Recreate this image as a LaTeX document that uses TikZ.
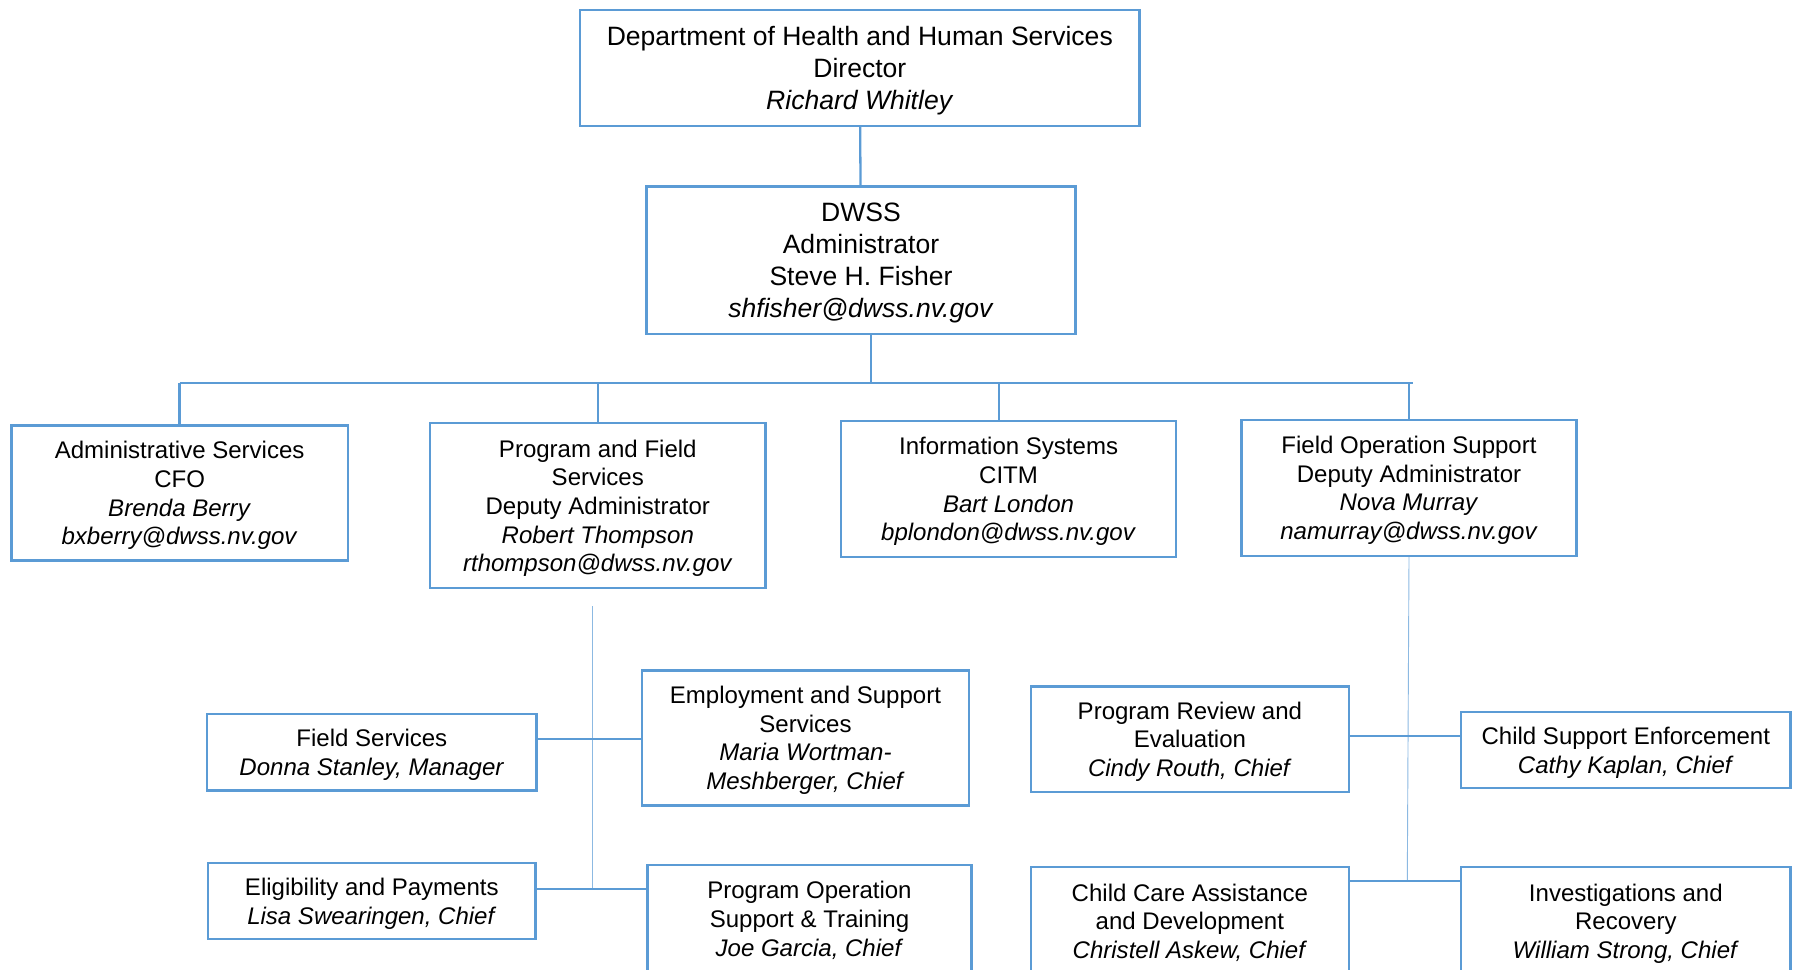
\documentclass[tikz,border=0pt]{standalone}
\usepackage{fontspec}
\setmainfont{Liberation Sans}
\usetikzlibrary{positioning}
\definecolor{orgblue}{RGB}{91,155,213}

\begin{document}
\begin{tikzpicture}[x=0.5pt,y=-0.5pt,
  boite/.style={draw=orgblue,line width=1pt,fill=white,inner sep=0pt,align=center,
    text depth=0pt,font=\fontsize{10.5}{12.5}\selectfont},
  grande/.style={boite,font=\fontsize{11.6}{14}\selectfont},
  lien/.style={draw=orgblue,line width=1pt},
  fin/.style={draw=orgblue!70,line width=0.4pt}]
\useasboundingbox (0,0) rectangle (1568,847);

% direction
\node[grande,minimum width=244.5pt,minimum height=50.5pt] (hhs) at (751.5,59.5)
  {Department of Health and Human Services\\Director\\\textit{Richard Whitley}};
\node[grande,minimum width=187.5pt,minimum height=64.5pt] (dwss) at (752.5,227.5)
  {DWSS\\Administrator\\Steve H. Fisher\\\textit{shfisher@dwss.nv.gov}};

% services
\node[boite,minimum width=147pt,minimum height=59pt] (adm) at (157,431)
  {Administrative Services\\CFO\\\textit{Brenda Berry}\\\textit{bxberry@dwss.nv.gov}};
\node[boite,minimum width=146.5pt,minimum height=72pt] (pfs) at (522.5,442)
  {Program and Field\\Services\\Deputy Administrator\\\textit{Robert Thompson}\\\textit{rthompson@dwss.nv.gov}};
\node[boite,minimum width=146.5pt,minimum height=59.5pt] (is) at (881.5,427.5)
  {Information Systems\\CITM\\\textit{Bart London}\\\textit{bplondon@dwss.nv.gov}};
\node[boite,minimum width=146.5pt,minimum height=59.5pt] (fos) at (1231.5,426.5)
  {Field Operation Support\\Deputy Administrator\\\textit{Nova Murray}\\\textit{namurray@dwss.nv.gov}};

% bureaux (gauche)
\node[boite,minimum width=144pt,minimum height=33.5pt] (fs) at (325,657.5)
  {Field Services\\\textit{Donna Stanley, Manager}};
\node[boite,minimum width=143pt,minimum height=59pt] (eas) at (704,645)
  {Employment and Support\\Services\\\textit{Maria Wortman-}\\\textit{Meshberger, Chief}};
\node[boite,minimum width=143pt,minimum height=33.5pt] (eap) at (325,787.5)
  {Eligibility and Payments\\\textit{Lisa Swearingen, Chief}};
\node[boite,minimum width=141.5pt,minimum height=47pt] (pos) at (707.5,803)
  {Program Operation\\Support \& Training\\\textit{Joe Garcia, Chief}};

% bureaux (droite)
\node[boite,minimum width=139pt,minimum height=46pt] (prr) at (1040,646)
  {Program Review and\\Evaluation\\\textit{Cindy Routh, Chief}};
\node[boite,minimum width=144pt,minimum height=33.5pt] (cse) at (1421,655.5)
  {Child Support Enforcement\\\textit{Cathy Kaplan, Chief}};
\node[boite,minimum width=139pt,minimum height=47pt] (cca) at (1040,805)
  {Child Care Assistance\\and Development\\\textit{Christell Askew, Chief}};
\node[boite,minimum width=144pt,minimum height=47pt] (isr) at (1421,805)
  {Investigations and\\Recovery\\\textit{William Strong, Chief}};

% liens du haut
\coordinate (bus) at (761,335);
\coordinate (busg) at (157,335);
\coordinate (busd) at (1235,335);
\coordinate (busis) at (873,335);
\draw[lien] (hhs) -- (dwss);
\draw[lien] (dwss.south -| bus) -- (bus);
\draw[lien] (busg) -- (busd);
\draw[lien] (adm.north) -- (adm.north |- bus);
\draw[lien] (pfs.north) -- (pfs.north |- bus);
\draw[lien] (busis) -- (busis |- is.north);
\draw[lien] (fos.north) -- (fos.north |- bus);

% liens de gauche
\coordinate (pg1) at (518,530);
\coordinate (pg2) at (518,646);
\coordinate (pg3) at (518,777);
\draw[fin] (pg1) -- (pg3);
\draw[lien] (fs.east |- pg2) -- (eas.west |- pg2);
\draw[lien] (eap.east |- pg3) -- (pos.west |- pg3);

% liens de droite
\coordinate (pd1) at (1230,643);
\coordinate (pd2) at (1230,770);
\draw[fin] (fos.south) -- (pd2);
\draw[lien] (prr.east |- pd1) -- (cse.west |- pd1);
\draw[lien] (cca.east |- pd2) -- (isr.west |- pd2);

\end{tikzpicture}
\end{document}
